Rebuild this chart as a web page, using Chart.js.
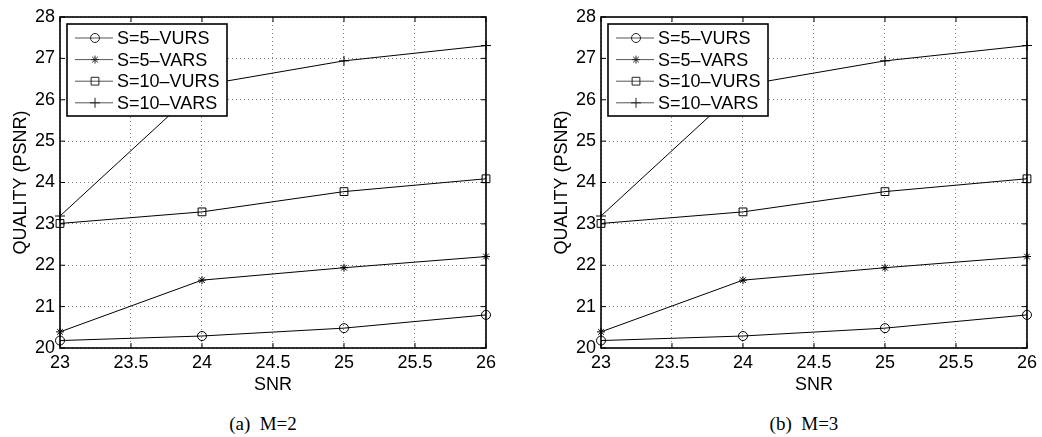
<!DOCTYPE html>
<html lang="en">
<head>
  <meta charset="UTF-8">
  <title>Quality vs SNR</title>
  <script src="https://cdn.jsdelivr.net/npm/chart.js"></script>
  <style>
    html, body {
      margin: 0;
      padding: 0;
      background: #fff;
      width: 1042px;
      height: 437px;
      overflow: hidden;
    }

    .panel {
      position: absolute;
      top: 0;
      width: 500px;
      height: 400px;
    }

    .caption {
      position: absolute;
      top: 413px;
      width: 200px;
      text-align: center;
      font-family: 'Liberation Serif', 'Times New Roman', serif;
      font-size: 19px;
      color: #000;
      white-space: pre;
    }
  </style>
</head>
<body>
  <div class="panel" style="left:0"><canvas id="chartM2" width="500" height="400"></canvas></div>
  <div class="panel" style="left:541px"><canvas id="chartM3" width="500" height="400"></canvas></div>
  <div class="caption" style="left:163px">(a)  M=2</div>
  <div class="caption" style="left:704px">(b)  M=3</div>

  <script>
    const snr = [23, 24, 25, 26];
    const seriesNames = ['S=5\u2013VURS', 'S=5\u2013VARS', 'S=10\u2013VURS', 'S=10\u2013VARS'];
    const markers = ['circle', 'star', 'rect', 'cross'];
    const markerSize = [4.5, 4, 5.5, 5];

    // M=2
    const m2Vurs5 = [20.18, 20.29, 20.48, 20.8];
    const m2Vars5 = [20.39, 21.64, 21.94, 22.21];
    const m2Vurs10 = [23.01, 23.29, 23.78, 24.09];
    const m2Vars10 = [23.19, 26.35, 26.94, 27.31];

    // M=3
    const m3Vurs5 = [20.18, 20.29, 20.48, 20.8];
    const m3Vars5 = [20.39, 21.64, 21.94, 22.21];
    const m3Vurs10 = [23.01, 23.29, 23.78, 24.09];
    const m3Vars10 = [23.19, 26.35, 26.94, 27.31];

    const FONT = "'Liberation Sans', Arial, Helvetica, sans-serif";

    // grid box, inward ticks and the legend inside the plot
    const frameAndLegend = {
      id: 'frameAndLegend',
      afterDatasetsDraw(chart) {
        const ctx = chart.ctx;
        const a = chart.chartArea;
        const xs = chart.scales.x;
        const ys = chart.scales.y;
        const seg = (x1, y1, x2, y2) => {
          ctx.beginPath();
          ctx.moveTo(x1, y1);
          ctx.lineTo(x2, y2);
          ctx.stroke();
        };

        ctx.save();
        ctx.strokeStyle = '#000';
        ctx.lineWidth = 1;
        xs.ticks.forEach(t => {
          const px = xs.getPixelForValue(t.value);
          seg(px, a.bottom, px, a.bottom - 5);
          seg(px, a.top, px, a.top + 5);
        });
        ys.ticks.forEach(t => {
          const py = ys.getPixelForValue(t.value);
          seg(a.left, py, a.left + 5, py);
          seg(a.right, py, a.right - 5, py);
        });

        ctx.lineWidth = 1.6;
        ctx.strokeRect(a.left, a.top, a.right - a.left, a.bottom - a.top);

        // legend
        const bx = a.left + 7, by = a.top + 7, bw = 160, bh = 92;
        ctx.fillStyle = '#fff';
        ctx.fillRect(bx, by, bw, bh);
        ctx.strokeRect(bx, by, bw, bh);

        ctx.font = '18px ' + FONT;
        ctx.textBaseline = 'middle';
        chart.data.datasets.forEach((ds, i) => {
          const ry = by + 14 + i * 21.6;
          ctx.strokeStyle = '#555';
          ctx.lineWidth = 1;
          seg(bx + 8, ry, bx + 46, ry);
          ctx.strokeStyle = '#222';
          ctx.fillStyle = 'rgba(0,0,0,0)';
          Chart.helpers.drawPoint(ctx, {
            pointStyle: ds.pointStyle,
            radius: ds.pointRadius,
            borderWidth: 1,
            rotation: 0
          }, bx + 28, ry);
          ctx.fillStyle = '#000';
          ctx.fillText(ds.label, bx + 50, ry + 1);
        });
        ctx.restore();
      }
    };

    function makeChart(id, series) {
      const datasets = series.map((vals, i) => ({
        label: seriesNames[i],
        data: snr.map((x, k) => ({ x: x, y: vals[k] })),
        borderColor: '#000',
        borderWidth: 1,
        pointStyle: markers[i],
        pointRadius: markerSize[i],
        pointBorderColor: '#000',
        pointBackgroundColor: 'rgba(0,0,0,0)',
        pointBorderWidth: 1,
        fill: false,
        tension: 0,
        clip: false
      }));

      return new Chart(document.getElementById(id), {
        type: 'line',
        data: { datasets: datasets },
        options: {
          responsive: false,
          animation: false,
          layout: { padding: { left: 0, right: 13, top: 17, bottom: 0 } },
          plugins: {
            legend: { display: false },
            tooltip: { enabled: false }
          },
          scales: {
            x: {
              type: 'linear',
              min: 23,
              max: 26,
              afterFit: s => { s.height = 52; },
              ticks: {
                stepSize: 0.5,
                color: '#000',
                padding: 4,
                maxRotation: 0,
                autoSkip: false,
                font: { family: FONT, size: 18 },
                callback: v => String(v)
              },
              grid: { color: '#808080', lineWidth: 1, drawTicks: false },
              border: { display: false, dash: [1, 3] },
              title: {
                display: true,
                text: 'SNR',
                color: '#000',
                padding: { top: 0, bottom: 4 },
                font: { family: FONT, size: 18 }
              }
            },
            y: {
              min: 20,
              max: 28,
              afterFit: s => { s.width = 60; },
              ticks: {
                stepSize: 1,
                color: '#000',
                padding: 5,
                font: { family: FONT, size: 18 },
                callback: v => String(v)
              },
              grid: { color: '#808080', lineWidth: 1, drawTicks: false },
              border: { display: false, dash: [1, 3] },
              title: {
                display: true,
                text: 'QUALITY (PSNR)',
                color: '#000',
                padding: { top: 10, bottom: 0 },
                font: { family: FONT, size: 18 }
              }
            }
          }
        },
        plugins: [frameAndLegend]
      });
    }

    makeChart('chartM2', [m2Vurs5, m2Vars5, m2Vurs10, m2Vars10]);
    makeChart('chartM3', [m3Vurs5, m3Vars5, m3Vurs10, m3Vars10]);
  </script>
</body>
</html>
